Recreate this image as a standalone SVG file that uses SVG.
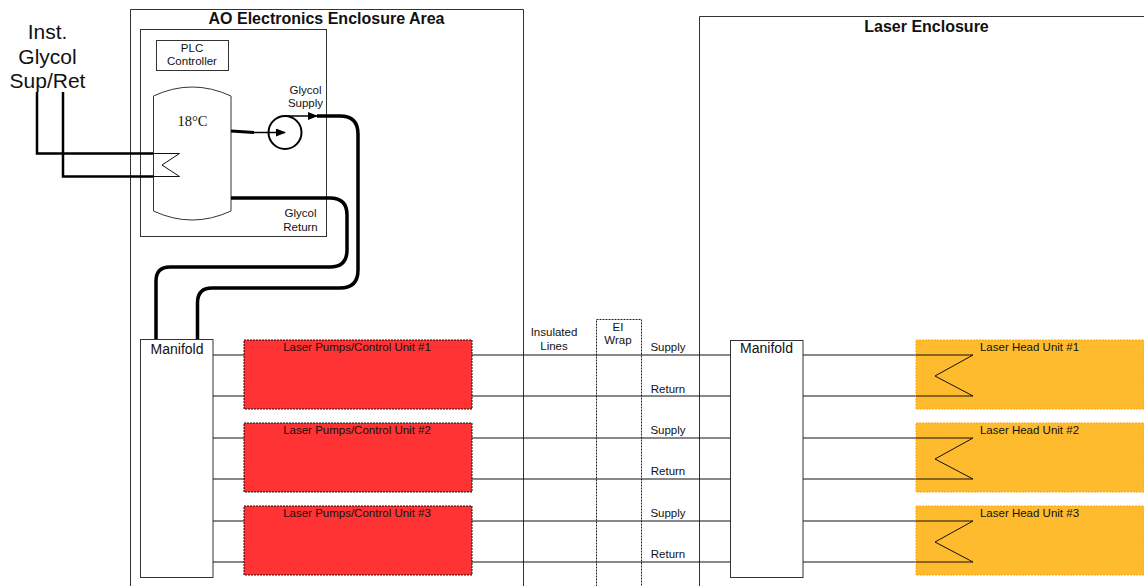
<svg xmlns="http://www.w3.org/2000/svg" width="1144" height="586" viewBox="0 0 1144 586">
<style>
text{font-family:"Liberation Sans",Arial,sans-serif;fill:#111;text-anchor:middle}
.box{fill:#fff;stroke:#333;stroke-width:1}
.open{fill:none;stroke:#333;stroke-width:1}
.thin{fill:none;stroke:#111;stroke-width:1}
.inst{fill:none;stroke:#000;stroke-width:2.500}
.thick{fill:none;stroke:#000;stroke-width:3.500}
.red{fill:#ff3333;stroke:#111;stroke-width:1;stroke-dasharray:2 1}
.org{fill:#ffbb2e;stroke:#ffa50a;stroke-width:1;stroke-dasharray:2 1}
.s{font-size:11.500px}
.m{font-size:14px}
.l{font-size:21px}
.b{font-size:16px;font-weight:bold}
</style>
<defs><marker id="ah" markerWidth="10" markerHeight="10" refX="9" refY="4" orient="auto" markerUnits="userSpaceOnUse"><path d="M0,0L10,4L0,8Z" fill="#000"/></marker></defs>
<g id="ao-enclosure"><path class="open" d="M130.500,586V9.500H523.500V586"/><text class="b" x="326.500" y="24">AO Electronics Enclosure Area</text></g>
<g id="laser-enclosure"><path class="open" d="M699.500,586V16.500H1145"/><text class="b" x="926.500" y="32">Laser Enclosure</text></g>
<g id="cabinet"><rect class="box" x="140.500" y="29.500" width="186" height="207"/></g>
<g id="plc"><rect class="box" x="156.500" y="40.500" width="72" height="30"/><text class="s" x="192" y="52">PLC</text><text class="s" x="192" y="65">Controller</text></g>
<g id="tank"><path class="box" d="M153.500,96Q192,78 231,96V211Q192,229 153.500,211Z"/><text x="192.500" y="126" style="font-family:'Liberation Serif',serif;font-size:14.500px">18°C</text></g>
<g id="el-wrap"><rect x="596.500" y="319.500" width="45" height="270" fill="none" stroke="#222" stroke-dasharray="2 1"/><text class="s" x="618" y="331">EI</text><text class="s" x="618" y="344">Wrap</text></g>
<g id="connectors">
<path class="thin" d="M213,355H244M213,396H244M213,438H244M213,479H244M213,521H244M213,562H244"/>
<path class="thin" d="M472,355H730M472,396H730M472,438H730M472,479H730M472,521H730M472,562H730"/>
<path class="thin" d="M803,355H916M803,396H916M803,438H916M803,479H916M803,521H916M803,562H916"/>
<path class="thin" d="M153.500,153.500H179.500L162,165L179.500,176.500H153.500"/>
<path class="inst" d="M37,92V153.500H153.500M63,92V176.500H153.500"/>
<path class="thick" d="M231,198H330Q347,198 347,215V250Q347,267 330,267H170Q156,267 156,281V340"/>
<path class="thick" d="M317,116H340Q358,116 358,134V270Q358,288 340,288H212Q197.500,288 197.500,303V340"/>
<path fill="none" stroke="#000" stroke-width="1.500" marker-end="url(#ah)" d="M285,116H317"/>
<path fill="none" stroke="#000" stroke-width="3" d="M231,131L254,132.500"/>
<path fill="none" stroke="#000" stroke-width="1.500" marker-end="url(#ah)" d="M254,132.500H285"/>
</g>
<g id="pump"><circle cx="285" cy="132.500" r="16.500" fill="none" stroke="#000" stroke-width="2"/></g>
<g id="manifold-left"><rect class="box" x="140.500" y="339.500" width="72.500" height="238"/><text class="m" x="177" y="354">Manifold</text></g>
<g id="manifold-right"><rect class="box" x="730.500" y="340.500" width="72.500" height="237"/><text class="m" x="766.500" y="353">Manifold</text></g>
<g id="pump-1"><rect class="red" x="244" y="340" width="228" height="69"/><text class="s" x="357" y="351">Laser Pumps/Control Unit #1</text></g>
<g id="pump-2"><rect class="red" x="244" y="423" width="228" height="69"/><text class="s" x="357" y="434">Laser Pumps/Control Unit #2</text></g>
<g id="pump-3"><rect class="red" x="244" y="506" width="228" height="69"/><text class="s" x="357" y="517">Laser Pumps/Control Unit #3</text></g>
<g id="head-1"><rect class="org" x="916" y="340" width="228" height="69"/><text class="s" x="1029.500" y="351">Laser Head Unit #1</text><path class="thin" d="M916,355H973L935,376L973,396H916"/></g>
<g id="head-2"><rect class="org" x="916" y="423" width="228" height="69"/><text class="s" x="1029.500" y="434">Laser Head Unit #2</text><path class="thin" d="M916,438H973L935,459L973,479H916"/></g>
<g id="head-3"><rect class="org" x="916" y="506" width="228" height="69"/><text class="s" x="1029.500" y="517">Laser Head Unit #3</text><path class="thin" d="M916,521H973L935,542L973,562H916"/></g>
<g id="labels">
<text class="l" x="47.500" y="39">Inst.</text><text class="l" x="47.500" y="64">Glycol</text><text class="l" x="47.500" y="88">Sup/Ret</text>
<text class="s" x="305.500" y="94">Glycol</text><text class="s" x="305.500" y="107">Supply</text>
<text class="s" x="300.500" y="217">Glycol</text><text class="s" x="300.500" y="231">Return</text>
<text class="s" x="554" y="336">Insulated</text><text class="s" x="554" y="350">Lines</text>
<text class="s" x="668" y="351">Supply</text><text class="s" x="668" y="393">Return</text>
<text class="s" x="668" y="434">Supply</text><text class="s" x="668" y="475">Return</text>
<text class="s" x="668" y="517">Supply</text><text class="s" x="668" y="558">Return</text>
</g>
</svg>
